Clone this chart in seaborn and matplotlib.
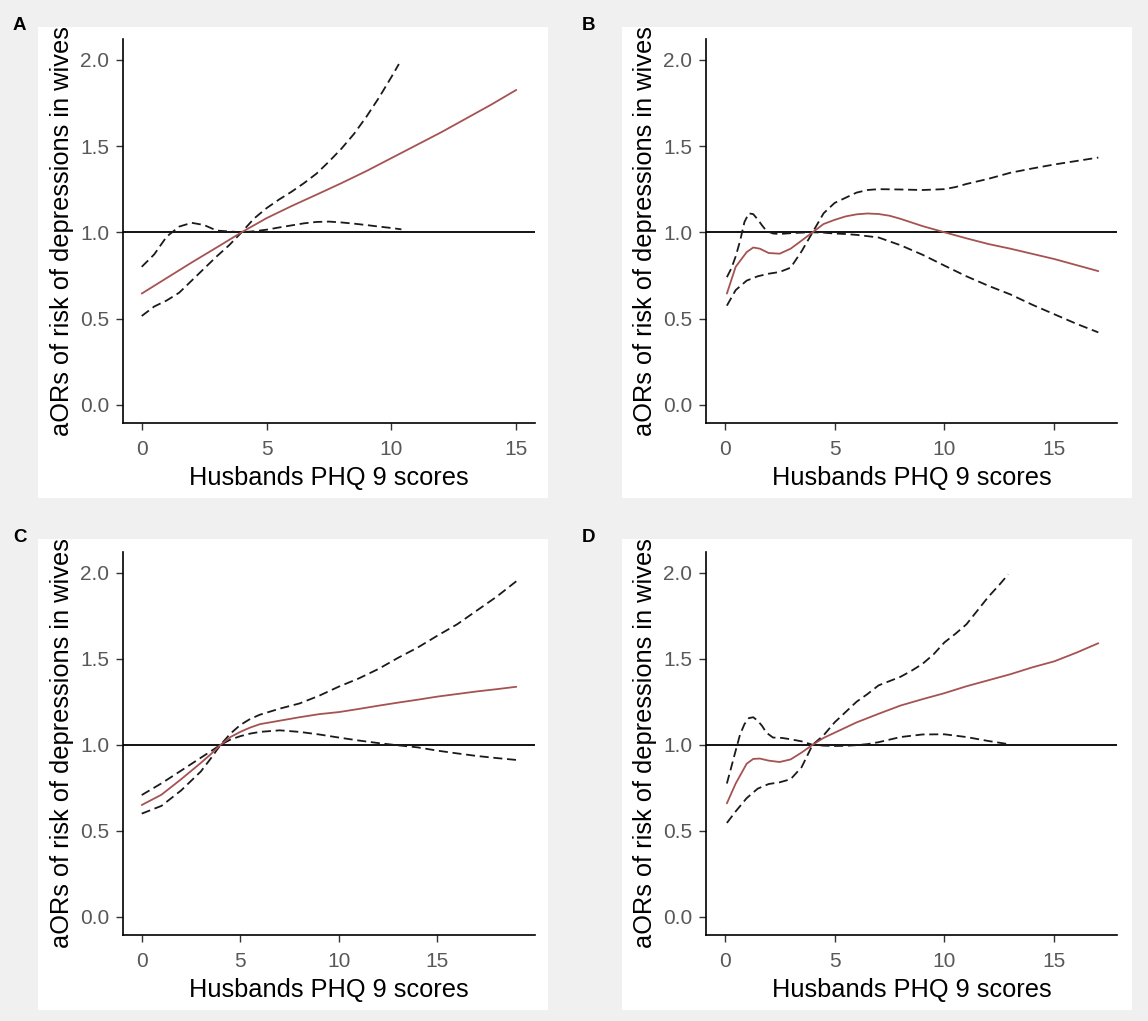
import matplotlib
matplotlib.use("Agg")
import matplotlib.pyplot as plt
from matplotlib.patches import Rectangle
import seaborn as sns
import pandas as pd

# ---------------- data ----------------
panel_labels = ["A", "B", "C", "D"]
x_max = [15, 17, 19, 17]
x_ticks = [0, 5, 10, 15]
y_ticks = [0.0, 0.5, 1.0, 1.5, 2.0]
x_title = "Husbands PHQ 9 scores"
y_title = "aORs of risk of depressions in wives"

# Panel A
A_fit_x = [0, 1, 2, 3, 4, 5, 6, 7, 8, 9, 10, 11, 12, 13, 14, 15]
A_fit_y = [0.645, 0.735, 0.825, 0.912, 1.0, 1.082, 1.152, 1.218, 1.285, 1.355, 1.43, 1.505, 1.58, 1.66, 1.74, 1.825]
A_ci1_x = [0, 0.5, 1.0, 1.5, 2.0, 2.5, 3.0, 3.5, 4.0, 4.5, 5.0, 5.5, 6.0, 6.5, 7.0, 7.5, 8.0, 8.5, 9.0, 9.5, 10.0, 10.3]
A_ci1_y = [0.515, 0.57, 0.605, 0.65, 0.72, 0.79, 0.86, 0.925, 1.0, 1.08, 1.14, 1.19, 1.235, 1.285, 1.34, 1.41, 1.485, 1.57, 1.67, 1.78, 1.90, 1.975]
A_ci2_x = [0, 0.5, 1.0, 1.5, 2.0, 2.5, 3.0, 3.5, 4.0, 4.5, 5.0, 5.5, 6.0, 6.5, 7.0, 7.5, 8.0, 8.5, 9.0, 9.5, 10.0, 10.4]
A_ci2_y = [0.80, 0.872, 0.975, 1.033, 1.055, 1.042, 1.01, 1.005, 1.0, 1.006, 1.015, 1.028, 1.04, 1.052, 1.06, 1.062, 1.057, 1.05, 1.042, 1.033, 1.025, 1.017]

# Panel B
B_fit_x = [0.1, 0.5, 1.0, 1.3, 1.6, 2.0, 2.5, 3.0, 3.5, 4.0, 4.5, 5.0, 5.5, 6.0, 6.5, 7.0, 7.5, 8.0, 9.0, 10.0, 11.0, 12.0, 13.0, 14.0, 15.0, 16.0, 17.0]
B_fit_y = [0.645, 0.80, 0.885, 0.912, 0.905, 0.88, 0.876, 0.905, 0.952, 1.0, 1.048, 1.072, 1.092, 1.104, 1.109, 1.106, 1.096, 1.078, 1.036, 1.0, 0.965, 0.932, 0.905, 0.875, 0.845, 0.81, 0.775]
B_ci1_x = [0.1, 0.3, 0.5, 0.7, 0.9, 1.1, 1.3, 1.5, 1.7, 1.9, 2.2, 2.5, 3.0, 3.5, 4.0, 4.5, 5.0, 5.5, 6.0, 7.0, 8.0, 9.0, 10.0, 11.0, 12.0, 13.0, 14.0, 15.0, 16.0, 17.0]
B_ci1_y = [0.74, 0.79, 0.86, 0.95, 1.06, 1.11, 1.105, 1.075, 1.04, 1.008, 0.993, 0.99, 0.995, 0.998, 1.0, 0.998, 0.993, 0.99, 0.985, 0.97, 0.925, 0.87, 0.807, 0.745, 0.69, 0.64, 0.58, 0.525, 0.47, 0.42]
B_ci2_x = [0.1, 0.5, 1.0, 1.5, 2.0, 2.5, 3.0, 3.5, 4.0, 4.5, 5.0, 5.5, 6.0, 6.5, 7.0, 8.0, 9.0, 10.0, 10.5, 11.0, 12.0, 13.0, 14.0, 15.0, 16.0, 17.0]
B_ci2_y = [0.575, 0.665, 0.72, 0.745, 0.76, 0.77, 0.795, 0.89, 1.0, 1.11, 1.17, 1.2, 1.23, 1.245, 1.25, 1.248, 1.245, 1.25, 1.262, 1.28, 1.31, 1.345, 1.37, 1.393, 1.413, 1.433]

# Panel C
C_fit_x = [0, 1, 2, 3, 3.5, 4, 4.5, 5, 5.5, 6, 7, 8, 9, 10, 11, 12, 13, 14, 15, 16, 17, 18, 19]
C_fit_y = [0.65, 0.71, 0.80, 0.895, 0.945, 1.0, 1.045, 1.075, 1.10, 1.12, 1.14, 1.16, 1.178, 1.19, 1.208, 1.227, 1.245, 1.262, 1.28, 1.295, 1.31, 1.323, 1.337]
C_ci1_x = [0, 1, 2, 3, 3.5, 4, 4.5, 5, 5.5, 6, 7, 8, 9, 10, 11, 12, 13, 14, 15, 16, 17, 18, 19]
C_ci1_y = [0.60, 0.645, 0.735, 0.845, 0.92, 1.0, 1.065, 1.115, 1.15, 1.175, 1.21, 1.24, 1.285, 1.338, 1.385, 1.44, 1.505, 1.565, 1.634, 1.70, 1.78, 1.86, 1.95]
C_ci2_x = [0, 1, 2, 3, 3.5, 4, 4.5, 5, 5.5, 6, 7, 8, 9, 10, 11, 12, 13, 14, 15, 16, 17, 18, 19]
C_ci2_y = [0.708, 0.776, 0.85, 0.925, 0.962, 1.0, 1.03, 1.05, 1.065, 1.075, 1.084, 1.075, 1.06, 1.042, 1.025, 1.01, 0.997, 0.985, 0.966, 0.95, 0.935, 0.923, 0.912]

# Panel D
D_fit_x = [0.1, 0.5, 1.0, 1.3, 1.6, 2.0, 2.5, 3.0, 3.5, 4.0, 4.5, 5.0, 6.0, 7.0, 8.0, 9.0, 10.0, 11.0, 12.0, 13.0, 14.0, 15.0, 16.0, 17.0]
D_fit_y = [0.66, 0.775, 0.89, 0.918, 0.92, 0.908, 0.90, 0.915, 0.955, 1.0, 1.04, 1.07, 1.13, 1.18, 1.228, 1.265, 1.30, 1.34, 1.375, 1.41, 1.45, 1.485, 1.535, 1.59]
D_ci1_x = [0.1, 0.3, 0.5, 0.7, 0.9, 1.1, 1.3, 1.5, 1.7, 1.9, 2.2, 2.6, 3.0, 3.5, 4.0, 4.5, 5.0, 5.5, 6.0, 6.5, 7.0, 8.0, 9.0, 10.0, 11.0, 12.0, 12.9]
D_ci1_y = [0.775, 0.87, 0.966, 1.06, 1.12, 1.155, 1.16, 1.14, 1.11, 1.07, 1.042, 1.04, 1.032, 1.02, 1.0, 0.995, 0.993, 0.994, 0.998, 1.004, 1.015, 1.045, 1.06, 1.061, 1.045, 1.022, 1.004]
D_ci2_x = [0.1, 0.5, 1.0, 1.5, 2.0, 2.5, 3.0, 3.5, 4.0, 4.5, 5.0, 5.5, 6.0, 6.5, 7.0, 7.5, 8.0, 8.5, 9.0, 9.5, 10.0, 10.5, 11.0, 11.5, 12.0, 12.5, 12.9]
D_ci2_y = [0.546, 0.613, 0.69, 0.745, 0.772, 0.782, 0.80, 0.87, 1.0, 1.055, 1.13, 1.19, 1.25, 1.295, 1.345, 1.37, 1.395, 1.43, 1.47, 1.525, 1.595, 1.645, 1.70, 1.78, 1.86, 1.93, 1.99]

panels = [
    (A_fit_x, A_fit_y, A_ci1_x, A_ci1_y, A_ci2_x, A_ci2_y),
    (B_fit_x, B_fit_y, B_ci1_x, B_ci1_y, B_ci2_x, B_ci2_y),
    (C_fit_x, C_fit_y, C_ci1_x, C_ci1_y, C_ci2_x, C_ci2_y),
    (D_fit_x, D_fit_y, D_ci1_x, D_ci1_y, D_ci2_x, D_ci2_y),
]

# ---------------- style ----------------
sns.set_theme(style="ticks")
plt.rcParams["font.family"] = ["Liberation Sans", "DejaVu Sans"]

W, H = 1148, 1021
fig = plt.figure(figsize=(W / 100, H / 100), dpi=100)
fig.patch.set_facecolor("#F0F0F0")

fit_color = "#A55252"
dash = (0, (5.0, 2.6))

# pixel geometry: (white box left, top, right, bottom), (axes left, top, right, bottom)
boxes = [(38, 27, 548, 498), (622, 27, 1132, 498), (38, 539, 548, 1010), (622, 539, 1132, 1010)]
axboxes = [(123, 39, 535, 423), (706, 39, 1117, 423), (123, 552, 535, 935), (706, 552, 1117, 935)]
label_pos = [(13, 30), (582, 30), (13, 542), (582, 542)]

for i, (fx, fy, c1x, c1y, c2x, c2y) in enumerate(panels):
    bl, bt, br, bb = boxes[i]
    fig.patches.append(Rectangle((bl / W, 1 - bb / H), (br - bl) / W, (bb - bt) / H,
                                 transform=fig.transFigure, facecolor="white",
                                 edgecolor="none", zorder=-10))
    al, at, ar, ab = axboxes[i]
    ax = fig.add_axes([al / W, 1 - ab / H, (ar - al) / W, (ab - at) / H])
    ax.set_zorder(5)
    ax.patch.set_alpha(0.0)

    ax.axhline(1.0, color="black", lw=1.3, zorder=2)
    df1 = pd.DataFrame({"x": c1x, "y": c1y})
    df2 = pd.DataFrame({"x": c2x, "y": c2y})
    dff = pd.DataFrame({"x": fx, "y": fy})
    sns.lineplot(data=df1, x="x", y="y", ax=ax, color="#1a1a1a", lw=1.3,
                 linestyle=dash, estimator=None, sort=False, zorder=3)
    sns.lineplot(data=df2, x="x", y="y", ax=ax, color="#1a1a1a", lw=1.3,
                 linestyle=dash, estimator=None, sort=False, zorder=3)
    sns.lineplot(data=dff, x="x", y="y", ax=ax, color=fit_color, lw=1.3,
                 estimator=None, sort=False, zorder=4)

    xm = x_max[i]
    ax.set_xlim(-0.05 * xm, xm * 1.05)
    ax.set_ylim(-0.105, 2.12)
    ax.set_xticks(x_ticks)
    ax.set_yticks(y_ticks)
    ax.set_yticklabels([f"{v:.1f}" for v in y_ticks])

    sns.despine(ax=ax)
    for s in ["left", "bottom"]:
        ax.spines[s].set_color("black")
        ax.spines[s].set_linewidth(1.2)
    ax.tick_params(axis="both", which="major", length=5, width=1.0, color="#333333",
                   labelsize=15, labelcolor="#585858", pad=5)
    ax.tick_params(axis="x", pad=7)
    ax.set_xlabel(x_title, fontsize=18.3, color="black", labelpad=5)
    ax.set_ylabel(y_title, fontsize=18.3, color="black", labelpad=4)

    lx, ly = label_pos[i]
    fig.text(lx / W, 1 - ly / H, panel_labels[i], fontsize=13.5, fontweight="bold",
             color="black", ha="left", va="baseline")

fig.savefig("out.png", dpi=100, facecolor=fig.get_facecolor())
